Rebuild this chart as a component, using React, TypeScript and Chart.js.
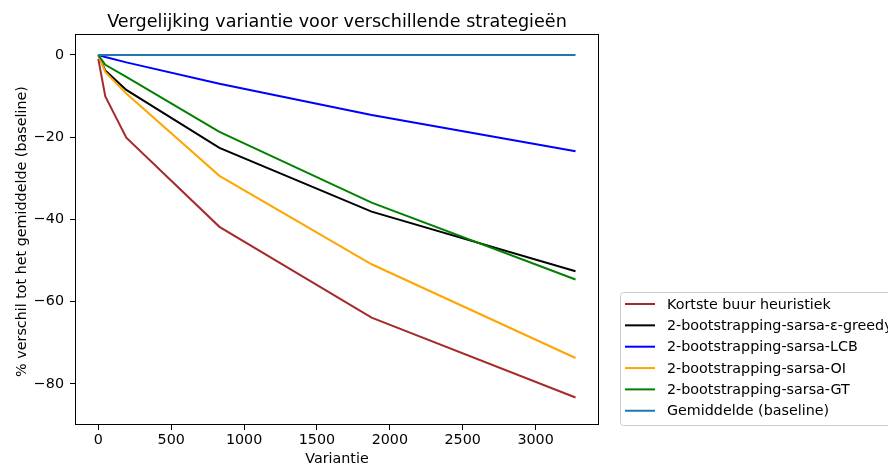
import React, { useEffect, useRef } from "react";
import { Chart, registerables } from "chart.js";

Chart.register(...registerables);

const xValues = [0, 48, 192, 831, 1875, 3274];
const kortsteBuur = [-1.0, -10.1, -20.1, -41.8, -63.9, -83.3];
const greedy = [0, -3.8, -8.5, -22.6, -38.1, -52.6];
const lcb = [0, -0.5, -1.8, -7.0, -14.6, -23.4];
const oi = [0, -4.1, -9.4, -29.4, -50.9, -73.7];
const gt = [0, -2.4, -5.3, -18.7, -35.9, -54.6];
const baseline = [0, 0, 0, 0, 0, 0];

const seriesLabels = [
  "Kortste buur heuristiek",
  "2-bootstrapping-sarsa-ε-greedy",
  "2-bootstrapping-sarsa-LCB",
  "2-bootstrapping-sarsa-OI",
  "2-bootstrapping-sarsa-GT",
  "Gemiddelde (baseline)",
];
const seriesColors = ["#a52a2a", "#000000", "#0000ff", "#ffa500", "#008000", "#1f77b4"];
const seriesValues = [kortsteBuur, greedy, lcb, oi, gt, baseline];

const xTicks = [0, 500, 1000, 1500, 2000, 2500, 3000];
const yTicks = [-80, -60, -40, -20, 0];

const titleText = "Vergelijking variantie voor verschillende strategieën";
const xTitle = "Variantie";
const yTitle = "% verschil tot het gemiddelde (baseline)";

const FONT = '"DejaVu Sans", sans-serif';
const FS = 14.3;

const fmt = (v: number) => (v < 0 ? "\u2212" + Math.abs(v) : String(v));

export default function App() {
  const ref = useRef<HTMLCanvasElement | null>(null);
  useEffect(() => {
    if (!ref.current) return;
    const n = seriesValues.length;
    const datasets = seriesValues.map((vals, i) => ({
      label: seriesLabels[i],
      data: vals.map((y, j) => ({ x: xValues[j], y })),
      borderColor: seriesColors[i],
      backgroundColor: seriesColors[i],
      borderWidth: 2,
      pointRadius: 0,
      tension: 0,
      fill: false,
      order: n - 1 - i,
    }));

    const decor = {
      id: "decor",
      afterDraw(chart: any) {
        const ctx = chart.ctx;
        const a = chart.chartArea;
        ctx.save();
        // spines
        ctx.strokeStyle = "#000";
        ctx.lineWidth = 1;
        ctx.strokeRect(Math.round(a.left) + 0.5, Math.round(a.top) + 0.5, Math.round(a.right - a.left) - 1, Math.round(a.bottom - a.top) - 1);
        // title
        ctx.fillStyle = "#000";
        ctx.textAlign = "center";
        ctx.textBaseline = "alphabetic";
        ctx.font = `17.6px ${FONT}`;
        ctx.fillText(titleText, (a.left + a.right) / 2, 26.5);
        // x title
        ctx.font = `${FS}px ${FONT}`;
        ctx.fillText(xTitle, (a.left + a.right) / 2, 463);
        // y title
        ctx.save();
        ctx.translate(25.5, (a.top + a.bottom) / 2 + 2);
        ctx.rotate(-Math.PI / 2);
        ctx.fillText(yTitle, 0, 0);
        ctx.restore();
        // legend
        const lx = 620.5, ly = 292.5, lw = 300, lh = 133;
        const r = 3;
        ctx.beginPath();
        ctx.moveTo(lx + r, ly);
        ctx.lineTo(lx + lw - r, ly);
        ctx.arcTo(lx + lw, ly, lx + lw, ly + r, r);
        ctx.lineTo(lx + lw, ly + lh - r);
        ctx.arcTo(lx + lw, ly + lh, lx + lw - r, ly + lh, r);
        ctx.lineTo(lx + r, ly + lh);
        ctx.arcTo(lx, ly + lh, lx, ly + lh - r, r);
        ctx.lineTo(lx, ly + r);
        ctx.arcTo(lx, ly, lx + r, ly, r);
        ctx.closePath();
        ctx.fillStyle = "rgba(255,255,255,0.8)";
        ctx.fill();
        ctx.strokeStyle = "#cccccc";
        ctx.lineWidth = 1;
        ctx.stroke();
        ctx.font = `${FS}px ${FONT}`;
        ctx.textAlign = "left";
        ctx.textBaseline = "middle";
        seriesLabels.forEach((lab, i) => {
          const cy = 304 + i * 21.35;
          ctx.strokeStyle = seriesColors[i];
          ctx.lineWidth = 2;
          ctx.beginPath();
          ctx.moveTo(625, cy);
          ctx.lineTo(655, cy);
          ctx.stroke();
          ctx.fillStyle = "#000";
          ctx.fillText(lab, 667, cy + 1);
        });
        ctx.restore();
      },
    };

    const chart = new Chart(ref.current, {
      type: "line",
      data: { datasets },
      options: {
        animation: false,
        responsive: false,
        maintainAspectRatio: false,
        layout: { padding: { left: 0, right: 289, top: 34, bottom: 0 } },
        plugins: { legend: { display: false }, tooltip: { enabled: false }, title: { display: false } },
        scales: {
          x: {
            type: "linear",
            min: -160,
            max: 3435,
            afterBuildTicks: (s: any) => {
              s.ticks = xTicks.map((v) => ({ value: v }));
            },
            afterFit: (s: any) => {
              s.height = 41;
            },
            grid: { display: true, drawOnChartArea: false, drawTicks: true, tickLength: 5, color: "#000", tickWidth: 1 },
            border: { display: false },
            ticks: { color: "#000", font: { family: FONT, size: FS }, padding: 2, maxRotation: 0, callback: (v: any) => fmt(Number(v)) },
          },
          y: {
            type: "linear",
            min: -90,
            max: 5.1,
            afterBuildTicks: (s: any) => {
              s.ticks = yTicks.map((v) => ({ value: v }));
            },
            afterFit: (s: any) => {
              s.width = 75;
            },
            grid: { display: true, drawOnChartArea: false, drawTicks: true, tickLength: 5, color: "#000", tickWidth: 1 },
            border: { display: false },
            ticks: { color: "#000", font: { family: FONT, size: FS }, padding: 6, callback: (v: any) => fmt(Number(v)) },
          },
        },
      },
      plugins: [decor],
    } as any);
    return () => chart.destroy();
  }, []);
  return (
    <div style={{ position: "fixed", left: 0, top: 0, width: 888, height: 466, background: "#fff" }}>
      <canvas ref={ref} width={888} height={466} style={{ width: 888, height: 466, display: "block" }} />
    </div>
  );
}
